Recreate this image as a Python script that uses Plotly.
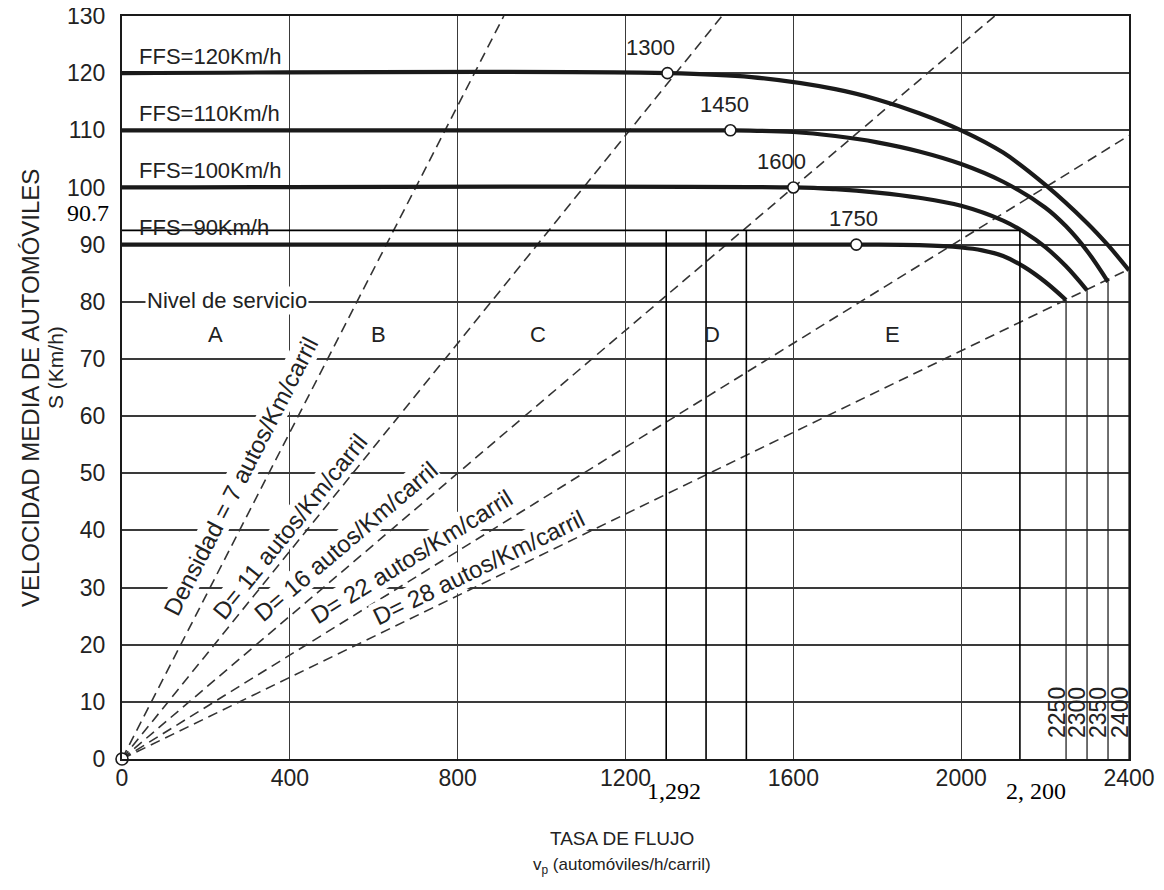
import math
import plotly.graph_objects as go

# ---------------- data ----------------
x_ticks = [0, 400, 800, 1200, 1600, 2000, 2400]
y_ticks = list(range(0, 131, 10))

# speed-flow curves (flow, speed)
ffs_labels = ["FFS=120Km/h", "FFS=110Km/h", "FFS=100Km/h", "FFS=90Km/h"]
ffs_values = [120, 110, 100, 90]
curve_x = [
    [0, 1300, 1500, 1700, 1800, 1900, 2000, 2100, 2200, 2300, 2350, 2400],
    [0, 1450, 1600, 1700, 1800, 1900, 2000, 2100, 2200, 2250, 2300, 2350],
    [0, 1600, 1700, 1800, 1900, 2000, 2100, 2150, 2200, 2250, 2300],
    [0, 1750, 1900, 2000, 2050, 2100, 2150, 2200, 2250],
]
curve_y = [
    [120, 120, 119.3, 117.2, 115.4, 113.0, 110.0, 106.1, 100.5, 93.8, 89.9, 85.5],
    [110, 110, 109.7, 109.0, 107.9, 106.3, 104.1, 101.0, 96.5, 93.2, 88.9, 83.5],
    [100, 100, 99.7, 99.1, 98.2, 96.8, 94.2, 92.2, 89.6, 86.2, 82.0],
    [90, 90, 89.9, 89.5, 89.0, 88.0, 86.1, 83.5, 80.3],
]
break_flows = [1300, 1450, 1600, 1750]
break_label_x = [1259, 1435, 1572, 1744]
capacities = [2400, 2350, 2300, 2250]
cap_speeds = [85.5, 83.5, 82.0, 80.3]
cap_label_x = [2378, 2326, 2276, 2228]

# density lines (autos/Km/carril)
densities = [7, 11, 16, 22, 28]
density_labels = ["Densidad = 7 autos/Km/carril", "D= 11 autos/Km/carril",
                  "D= 16 autos/Km/carril", "D= 22 autos/Km/carril",
                  "D= 28 autos/Km/carril"]
density_label_x = [282, 400, 533, 691, 850]
density_label_y = [49.5, 40.7, 38.1, 35.4, 33.5]

# level of service letters
los_letters = ["A", "B", "C", "D", "E"]
los_x = [222, 612, 991, 1405, 1837]
los_y = [74.3, 74.3, 74.3, 74.3, 74.3]

# hand-drawn overlay
overlay_speed = 92.5
overlay_flows = [1297, 1392, 1488, 2140]

X_MAX, Y_MAX = 2400, 130
# page body has an 8px margin; figure sized so the plot lands at screen x 122-1129, y 16-759
BODY = 8
W, H = 1164 - BODY, 890 - BODY
ML, MT = 122 - BODY, 16 - BODY
MR = W - (1129 - BODY)
MB = H - (759 - BODY)
PW, PH = W - ML - MR, H - MT - MB


def px(sx):  # screen x -> paper x
    return (sx - 122) / PW


def py(sy):  # screen y -> paper y
    return (759 - sy) / PH


fig = go.Figure()

GRID = "#3a3a3a"
TXT = "#222222"
FONT = "Liberation Sans, Arial, sans-serif"
SERIF = "Liberation Serif, Times New Roman, serif"

# density dashed lines
for d in densities:
    xe = min(X_MAX, Y_MAX * d)
    ye = xe / d
    fig.add_trace(go.Scatter(x=[0, xe], y=[0, ye], mode="lines",
                             line=dict(color="#333333", width=1.6, dash="10px,6px"),
                             hoverinfo="skip", showlegend=False))

# capacity vertical lines
for c, s in zip(capacities, cap_speeds):
    fig.add_trace(go.Scatter(x=[c, c], y=[0, s], mode="lines",
                             line=dict(color="#222222", width=1.3),
                             hoverinfo="skip", showlegend=False))

# speed-flow curves
for cx, cy in zip(curve_x, curve_y):
    fig.add_trace(go.Scatter(x=cx, y=cy, mode="lines",
                             line=dict(color="#1a1a1a", width=4.2, shape="spline", smoothing=1.0),
                             hoverinfo="skip", showlegend=False))

# break point circles
fig.add_trace(go.Scatter(x=break_flows, y=ffs_values, mode="markers",
                         marker=dict(size=11, color="white", line=dict(color="#1a1a1a", width=1.6)),
                         hoverinfo="skip", showlegend=False))
# origin circle
fig.add_trace(go.Scatter(x=[0], y=[0], mode="markers", cliponaxis=False,
                         marker=dict(size=12, color="white", line=dict(color="#1a1a1a", width=1.6)),
                         hoverinfo="skip", showlegend=False))

# overlay lines
fig.add_trace(go.Scatter(x=[0, overlay_flows[-1]], y=[overlay_speed, overlay_speed], mode="lines",
                         line=dict(color="black", width=1.6), hoverinfo="skip", showlegend=False))
for fx in overlay_flows:
    fig.add_trace(go.Scatter(x=[fx, fx], y=[0, overlay_speed], mode="lines",
                             line=dict(color="black", width=1.6), hoverinfo="skip", showlegend=False))

ann = []


def add(**kw):
    kw.setdefault("showarrow", False)
    kw.setdefault("xanchor", "center")
    kw.setdefault("yanchor", "middle")
    ann.append(kw)


# FFS labels
for lab, v in zip(ffs_labels, ffs_values):
    add(x=36, y=v + 3.0, xref="x", yref="y", text=lab, xanchor="left",
        font=dict(size=22, color=TXT, family=FONT))
# break flow labels
for bx, bf, v in zip(break_label_x, break_flows, ffs_values):
    add(x=bx, y=v + 4.5, xref="x", yref="y", text=str(bf),
        font=dict(size=22, color=TXT, family=FONT))
# density labels
for d, lab, lx, ly in zip(densities, density_labels, density_label_x, density_label_y):
    ang = math.degrees(math.atan((PH / Y_MAX) / (PW / X_MAX) / d))
    add(x=lx, y=ly, xref="x", yref="y", text=lab, textangle=-ang, bgcolor="white", borderpad=0,
        font=dict(size=24, color=TXT, family=FONT))
# nivel de servicio
add(x=250, y=80.2, xref="x", yref="y", text="Nivel de servicio", bgcolor="white", borderpad=1,
    font=dict(size=22, color=TXT, family=FONT))
for l, lx, ly in zip(los_letters, los_x, los_y):
    add(x=lx, y=ly, xref="x", yref="y", text=l, font=dict(size=22, color=TXT, family=FONT))
# capacity labels (rotated)
for c, lx in zip(capacities, cap_label_x):
    add(x=lx, y=8.2, xref="x", yref="y", text=str(c), textangle=-90,
        font=dict(size=23, color=TXT, family=FONT))
# overlay labels
add(x=px(88), y=95.5, xref="paper", yref="y", text="90.7",
    font=dict(size=24, color="black", family=SERIF))
add(x=1315, y=py(791), xref="x", yref="paper", text="1,292",
    font=dict(size=24, color="black", family=SERIF))
add(x=2178, y=py(791), xref="x", yref="paper", text="2, 200",
    font=dict(size=24, color="black", family=SERIF))
# axis titles
add(x=px(31), y=py(388), xref="paper", yref="paper", text="VELOCIDAD MEDIA DE AUTOMÓVILES",
    textangle=-90, font=dict(size=24, color=TXT, family=FONT))
add(x=px(56), y=py(368), xref="paper", yref="paper", text="S (Km/h)",
    textangle=-90, font=dict(size=21, color=TXT, family=FONT))
add(x=px(622), y=py(838), xref="paper", yref="paper", text="TASA DE FLUJO",
    font=dict(size=19, color=TXT, family=FONT))
add(x=px(622), y=py(866), xref="paper", yref="paper",
    text="v<sub>p</sub> (automóviles/h/carril)",
    font=dict(size=17, color=TXT, family=FONT))

fig.update_layout(
    width=W, height=H,
    margin=dict(l=ML, r=MR, t=MT, b=MB, autoexpand=False),
    paper_bgcolor="white", plot_bgcolor="white",
    showlegend=False,
    annotations=ann,
    font=dict(family=FONT, color=TXT),
)
fig.update_xaxes(range=[0, X_MAX], tickvals=x_ticks, ticktext=[str(t) for t in x_ticks],
                 automargin=False, ticklabeloverflow="allow",
                 showgrid=True, gridcolor=GRID, gridwidth=1.2, zeroline=False,
                 showline=True, linecolor="#1a1a1a", linewidth=2, mirror=True,
                 ticks="", ticklabelstandoff=-3,
                 tickfont=dict(size=23, color=TXT, family=FONT))
fig.update_yaxes(range=[0, Y_MAX], tickvals=y_ticks, ticktext=[str(t) for t in y_ticks],
                 automargin=False, ticklabeloverflow="allow",
                 showgrid=True, gridcolor=GRID, gridwidth=1.8, zeroline=False,
                 showline=True, linecolor="#1a1a1a", linewidth=2, mirror=True,
                 ticks="outside", ticklen=10, tickcolor="rgba(0,0,0,0)",
                 tickfont=dict(size=23, color=TXT, family=FONT))

fig.write_html("out.html")
